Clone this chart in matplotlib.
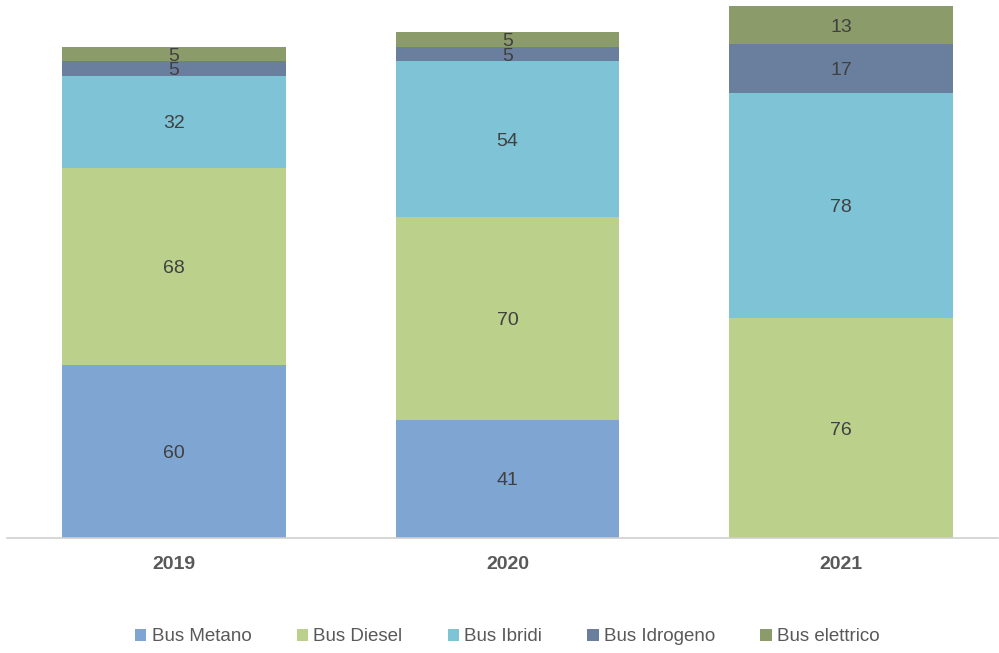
import numpy as np
import matplotlib.pyplot as plt

plt.rcParams['font.family'] = ['Liberation Sans', 'DejaVu Sans']

years = ["2019", "2020", "2021"]
series = ["Bus Metano", "Bus Diesel", "Bus Ibridi", "Bus Idrogeno", "Bus elettrico"]
metano = [60, 41, 0]
diesel = [68, 70, 76]
ibridi = [32, 54, 78]
idrogeno = [5, 5, 17]
elettrico = [5, 5, 13]
colors = ["#7FA6D2", "#BBD08B", "#7FC4D6", "#6A7F9E", "#8C9B6A"]

fig = plt.figure(figsize=(9.99, 6.53), dpi=100)
ax = fig.add_axes([0.007, 0.176, 0.992, 0.824])

x = np.arange(len(years))
bottom = np.zeros(len(years))
for name, vals, col in zip(series, [metano, diesel, ibridi, idrogeno, elettrico], colors):
    vals = np.array(vals, dtype=float)
    ax.bar(x, vals, 0.67, bottom=bottom, color=col, label=name)
    for xi, v, b in zip(x, vals, bottom):
        if v > 0:
            ax.text(xi, b + v / 2, f"{int(v)}", ha="center", va="center_baseline",
                    fontsize=14, color="#404040")
    bottom += vals

ax.set_xlim(-0.5, 2.47)
ax.set_ylim(0, 186.2)
ax.set_yticks([])
ax.set_xticks(x)
ax.set_xticklabels(years, fontsize=14, fontweight="bold", color="#595959")
ax.tick_params(axis="x", length=0, pad=13)
for s in ["top", "right", "left"]:
    ax.spines[s].set_visible(False)
ax.spines["bottom"].set_color("#D0D0D0")
ax.spines["bottom"].set_linewidth(1.2)

fig.legend(loc="lower center", bbox_to_anchor=(0.508, -0.014), ncol=5, frameon=False,
           fontsize=13.5, handlelength=0.6, handleheight=0.6, handletextpad=0.3,
           columnspacing=2.4, labelcolor="#595959")

fig.savefig("out.png", dpi=100)
